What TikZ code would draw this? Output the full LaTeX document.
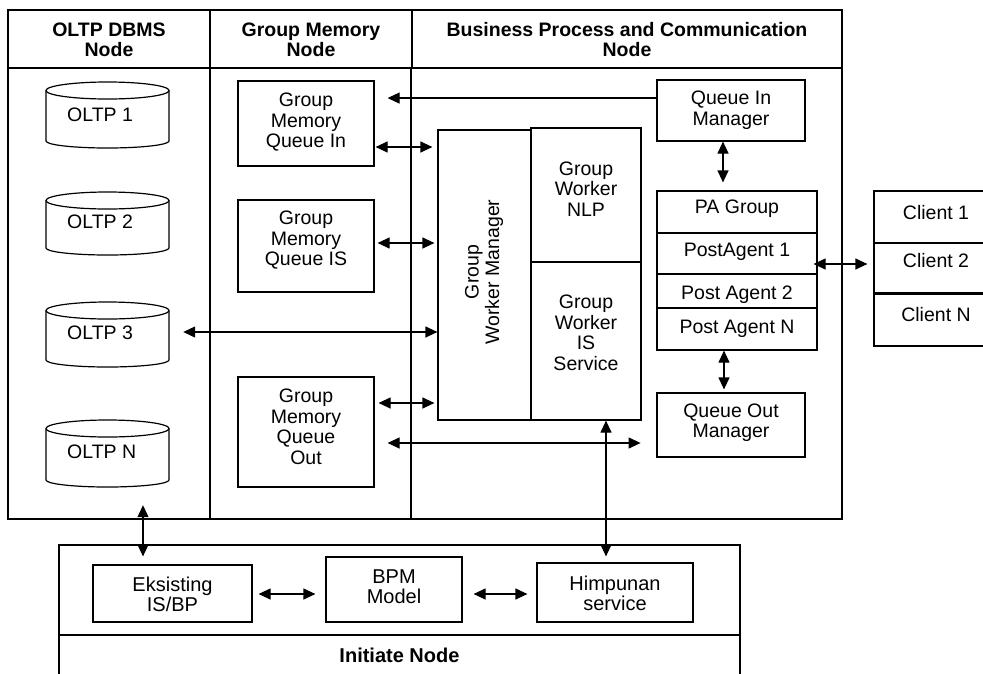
\documentclass[tikz,border=0pt]{standalone}
\usepackage{fontspec}
\setmainfont{Liberation Sans}
\usetikzlibrary{arrows.meta,calc}
\begin{document}
\begin{tikzpicture}[x=1pt,y=-1pt,
  box/.style={draw, line width=1.2pt, inner sep=0pt},
  txt/.style={inner sep=0pt, align=center, font=\fontsize{19.5}{20.5}\selectfont},
  btxt/.style={inner sep=0pt, align=center, font=\fontsize{20}{20}\selectfont},
  hdr/.style={inner sep=0pt, align=center, font=\fontsize{19.5}{20}\selectfont\bfseries},
  frame/.style={line width=1.2pt},
  heavy/.style={line width=2.6pt},
  cylbox/.style={inner sep=0pt, minimum width=123pt},
  arr/.style={{Triangle[length=12pt,width=11pt]}-{Triangle[length=12pt,width=11pt]}, line width=1.2pt},
  sarr/.style={-{Triangle[length=12pt,width=11pt]}, line width=1.2pt},
]
\useasboundingbox (0,0) rectangle (983,673);
\clip (0,0) rectangle (983,673);
\fill[white] (0,0) rectangle (983,673);

% main frame
\draw[frame] (8,10) rectangle (842,519);
\draw[frame] (8,68) -- (842,68);
\draw[frame] (210,10) -- (210,519);
\draw[frame] (412,10) -- (412,68);
\draw[heavy] (411,68) -- (411,519);

% headers
\node[hdr] (h1) at (109,40) {OLTP DBMS\\Node};
\node[hdr] (h2) at (311,40) {Group Memory\\Node};
\node[hdr] (h3) at (627,40) {Business Process and Communication\\Node};

% cylinders
\newcommand\oltpcyl[2]{%
  \draw[frame] (107.5,{#1+8.5}) ellipse [x radius=61.5, y radius=8.5];
  \draw[frame] (46,{#1+8.5}) -- (46,{#2-7}) arc[start angle=180, end angle=0, x radius=61.5, y radius=7] -- (169,{#1+8.5});
}
\oltpcyl{82}{148}
\oltpcyl{192}{255}
\oltpcyl{302}{367}
\oltpcyl{420}{487}
\node[cylbox, minimum height=66pt] (cyl1) at (107.5,115) {};
\node[cylbox, minimum height=63pt] (cyl2) at (107.5,223.5) {};
\node[cylbox, minimum height=65pt] (cyl3) at (107.5,334.5) {};
\node[cylbox, minimum height=67pt] (cylN) at (107.5,453.5) {};
\node[txt, anchor=west] (t1) at (67,115) {OLTP 1};
\node[txt, anchor=west] (t2) at (67,222) {OLTP 2};
\node[txt, anchor=west] (t3) at (67,333) {OLTP 3};
\node[txt, anchor=west] (tN) at (67,452) {OLTP N};

% group memory boxes
\node[box, minimum width=136pt, minimum height=85pt] (gmqin) at (306,123.5) {};
\node[txt] at (306,122.5) {Group\\Memory\\Queue In};
\node[box, minimum width=136pt, minimum height=92pt] (gmqis) at (306,246) {};
\node[txt] at (306,240.5) {Group\\Memory\\Queue IS};
\node[box, minimum width=136pt, minimum height=110pt] (gmqout) at (306,432) {};
\node[txt] at (306,427) {Group\\Memory\\Queue\\Out};

% group worker
\node[box, minimum width=93pt, minimum height=290pt] (gwm) at (484.5,275) {};
\node[txt, rotate=90] at (484,272) {Group\\Worker Manager};
\node[box, minimum width=110pt, minimum height=134pt] (gwnlp) at (586,195) {};
\node[txt] at (586,189) {Group\\Worker\\NLP};
\node[box, minimum width=110pt, minimum height=158pt] (gwis) at (586,341) {};
\node[txt] at (586,333) {Group\\Worker\\IS\\Service};

% queue managers
\node[box, minimum width=148pt, minimum height=61pt] (qim) at (731,110.5) {};
\node[txt] at (731,110) {Queue In\\Manager};
\node[box, minimum width=148pt, minimum height=64pt] (qom) at (731,425) {};
\node[txt] at (731,422.5) {Queue Out\\Manager};

% PA group
\node[box, minimum width=160pt, minimum height=42pt] (pag) at (737,212) {};
\node[box, minimum width=160pt, minimum height=41pt] (pa1) at (737,253.5) {};
\node[box, minimum width=160pt, minimum height=34pt] (pa2) at (737,291) {};
\node[box, minimum width=160pt, minimum height=42pt] (pan) at (737,329) {};
\node[txt] at (737,209) {PA Group};
\node[txt] at (737,252) {PostAgent 1};
\node[txt] at (737,295) {Post Agent 2};
\node[txt] at (737,329) {Post Agent N};

% clients
\node[box, minimum width=124pt, minimum height=52pt] (cl1) at (936,217) {};
\node[box, minimum width=124pt, minimum height=50pt] (cl2) at (936,268) {};
\node[box, minimum width=124pt, minimum height=53pt] (cln) at (936,319.5) {};
\draw[line width=2.4pt] (cl2.south west) -- (cl2.south east);
\node[txt] at (936,213) {Client 1};
\node[txt] at (936,261) {Client 2};
\node[txt] at (936,315) {Client N};

% initiate node
\draw[frame] (59,545) rectangle (740,700);
\draw[frame] (59,635) -- (740,635);
\node[hdr, font=\fontsize{20}{20}\selectfont\bfseries] (h4) at (399.5,655) {Initiate Node};
\node[box, minimum width=159pt, minimum height=57pt] (eks) at (172.5,593.5) {};
\node[btxt] at (172.5,594.5) {Eksisting\\IS/BP};
\node[box, minimum width=136pt, minimum height=65pt] (bpm) at (394,589.5) {};
\node[btxt] at (394,586.5) {BPM\\Model};
\node[box, minimum width=156pt, minimum height=59pt] (him) at (615,592.5) {};
\node[btxt] at (615,593.5) {Himpunan\\service};

% connectors
\coordinate (q1) at ($(qim.north west)!0.3!(qim.south west)$);
\coordinate (q1e) at (q1 -| gmqin.east);
\draw[sarr] (q1) -- ([xshift=13pt]q1e);

\coordinate (a2) at ([yshift=-23.5pt]gmqin.east);
\draw[arr, shorten <=1pt, shorten >=5pt] (a2) -- (a2 -| gwm.west);

\coordinate (a3) at ([yshift=3pt]gmqis.east);
\draw[arr, shorten <=3pt, shorten >=3pt] (a3) -- (a3 -| gwm.west);

\coordinate (a4) at ([xshift=14pt,yshift=2.5pt]cyl3.east);
\draw[arr] (a4) -- (a4 -| gwm.west);

\coordinate (a5) at ([yshift=29pt]gmqout.east);
\draw[arr, shorten <=4pt, shorten >=3pt] (a5) -- (a5 -| gwm.west);

\coordinate (a6) at ([xshift=13pt,yshift=-11pt]gmqout.east);
\draw[arr, shorten >=1pt] (a6) -- (a6 -| gwis.east);

\coordinate (a7) at ([xshift=-8pt]qim.south);
\draw[arr, shorten >=8pt] (a7) -- (a7 |- pag.north);

\coordinate (a8) at ([xshift=-13pt]pan.south);
\draw[arr, shorten >=3pt] (a8) -- (a8 |- qom.north);

\coordinate (a9) at ([yshift=-10.5pt]pa1.east);
\draw[arr, shorten <=-4pt, shorten >=6pt] (a9) -- (a9 -| cl2.west);

\coordinate (a10) at ([xshift=20pt]gwis.south);
\draw[arr, shorten >=6pt] (a10) -- (a10 |- him.north);

\coordinate (a11) at ([xshift=35.5pt,yshift=-18pt]cylN.south);
\draw[arr, shorten >=8pt] (a11) -- (a11 |- eks.north);

\coordinate (a12) at ([yshift=-0.5pt]eks.east);
\draw[arr, shorten <=6pt, shorten >=10pt] (a12) -- (a12 -| bpm.west);

\coordinate (a13) at ([yshift=-4.5pt]bpm.east);
\draw[arr, shorten <=11pt, shorten >=9pt] (a13) -- (a13 -| him.west);
\end{tikzpicture}
\end{document}
